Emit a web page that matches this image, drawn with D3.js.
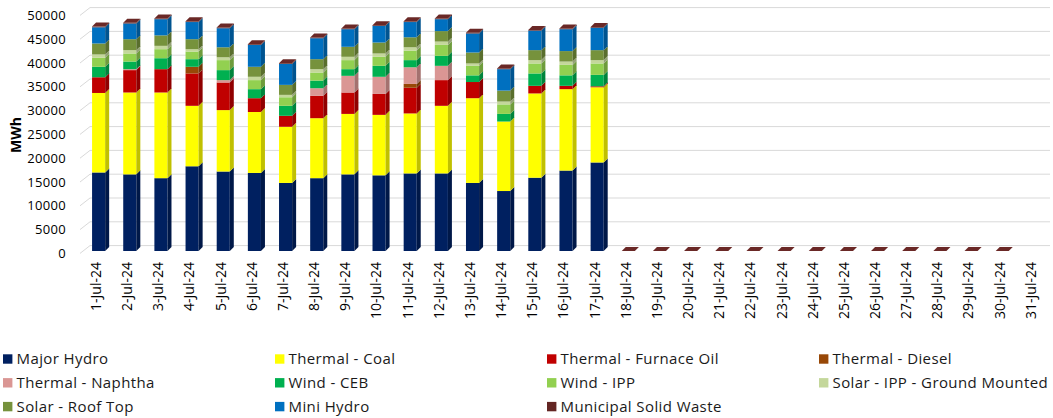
<!DOCTYPE html>
<html>
<head>
<meta charset="utf-8">
<script src="https://cdn.jsdelivr.net/npm/d3@7"></script>
<style>
  body { margin: 0; background: #fff; }
  svg { display: block; font-family: "Open Sans", "Noto Sans", sans-serif; }
</style>
</head>
<body>
<svg width="1053" height="418"></svg>
<script>
const dates = [
    "1-Jul-24", "2-Jul-24", "3-Jul-24", "4-Jul-24", "5-Jul-24", "6-Jul-24", "7-Jul-24", "8-Jul-24",
    "9-Jul-24", "10-Jul-24", "11-Jul-24", "12-Jul-24", "13-Jul-24", "14-Jul-24", "15-Jul-24", "16-Jul-24",
    "17-Jul-24", "18-Jul-24", "19-Jul-24", "20-Jul-24", "21-Jul-24", "22-Jul-24", "23-Jul-24", "24-Jul-24",
    "25-Jul-24", "26-Jul-24", "27-Jul-24", "28-Jul-24", "29-Jul-24", "30-Jul-24", "31-Jul-24"
]

// MWh per day, 18-30 Jul reported as zero, 31 Jul no data
const majorHydro = [16500, 16100, 15300, 17800, 16700, 16400, 14300, 15300, 16100, 15900, 16300, 16300, 14300, 12600, 15400, 16900, 18600, 0, 0, 0, 0, 0, 0, 0, 0, 0, 0, 0, 0, 0, null]
const thermalCoal = [16700, 17200, 18000, 12700, 12900, 12800, 11800, 12600, 12700, 12700, 12600, 14200, 17800, 14600, 17700, 17100, 15800, 0, 0, 0, 0, 0, 0, 0, 0, 0, 0, 0, 0, 0, null]
const furnaceOil = [3300, 4700, 4900, 6800, 5800, 2900, 2300, 4700, 4500, 4400, 5400, 5400, 3400, 0, 1600, 700, 200, 0, 0, 0, 0, 0, 0, 0, 0, 0, 0, 0, 0, 0, null]
const diesel = [0, 0, 0, 1400, 0, 0, 0, 0, 0, 0, 800, 0, 0, 0, 0, 0, 0, 0, 0, 0, 0, 0, 0, 0, 0, 0, 0, 0, 0, 0, null]
const naphtha = [0, 200, 0, 0, 500, 0, 0, 1600, 3500, 3600, 3500, 3000, 0, 0, 0, 0, 0, 0, 0, 0, 0, 0, 0, 0, 0, 0, 0, 0, 0, 0, null]
const windCEB = [2200, 1600, 2300, 1600, 2100, 1900, 2100, 1600, 1400, 2300, 1500, 2100, 1400, 1600, 2600, 2200, 2400, 0, 0, 0, 0, 0, 0, 0, 0, 0, 0, 0, 0, 0, null]
const windIPP = [1900, 1700, 1900, 1600, 2100, 1900, 1800, 1700, 1900, 1900, 2000, 2300, 2000, 2000, 2100, 2200, 2400, 0, 0, 0, 0, 0, 0, 0, 0, 0, 0, 0, 0, 0, null]
const solarGround = [700, 700, 700, 500, 600, 700, 500, 700, 700, 700, 700, 700, 500, 600, 700, 700, 700, 0, 0, 0, 0, 0, 0, 0, 0, 0, 0, 0, 0, 0, null]
const solarRoof = [2300, 2300, 2200, 2100, 2100, 2100, 2100, 2100, 2100, 2300, 2100, 2200, 2300, 2300, 2100, 2200, 2100, 0, 0, 0, 0, 0, 0, 0, 0, 0, 0, 0, 0, 0, null]
const miniHydro = [3400, 3300, 3400, 3600, 4000, 4600, 4400, 4400, 3700, 3500, 3200, 2500, 4000, 4500, 4100, 4600, 4700, 0, 0, 0, 0, 0, 0, 0, 0, 0, 0, 0, 0, 0, null]
const msw = [150, 150, 150, 150, 150, 150, 150, 150, 150, 150, 150, 150, 150, 150, 150, 150, 150, 0, 0, 0, 0, 0, 0, 0, 0, 0, 0, 0, 0, 0, null]

const seriesNames = ["Major Hydro", "Thermal - Coal", "Thermal - Furnace Oil", "Thermal - Diesel",
    "Thermal - Naphtha", "Wind - CEB", "Wind - IPP", "Solar - IPP - Ground Mounted",
    "Solar - Roof Top", "Mini Hydro", "Municipal Solid Waste"]
const seriesValues = [majorHydro, thermalCoal, furnaceOil, diesel, naphtha, windCEB, windIPP,
    solarGround, solarRoof, miniHydro, msw]
const colors = ["#002060", "#ffff00", "#c00000", "#984807", "#da9694", "#00b050", "#92d050",
    "#c4d79b", "#76923c", "#0070c0", "#632523"]
const yTicks = [0, 5000, 10000, 15000, 20000, 25000, 30000, 35000, 40000, 45000, 50000]

const svg = d3.select("svg")

// bar depth (oblique offset) and wall offsets
const bdx = 4, bdy = 4
const wallFront = 2.4, wallBack = 5.4

const x = d3.scaleBand()
    .domain(dates)
    .range([74, 1058])
    .paddingInner(0.58)
    .paddingOuter(0.58)

const y = d3.scaleLinear()
    .domain([0, 50000])
    .range([251, 13])

// gridlines: short side-wall diagonal + back wall line
const grid = svg.append("g")
    .attr("stroke", "#d9d9d9")
    .attr("fill", "none")
yTicks.forEach(v => {
    grid.append("path")
        .attr("d", `M80,${y(v) + wallFront} L90,${y(v) - wallBack} L1050,${y(v) - wallBack}`)
})

// y axis labels
const yAxis = svg.append("g")
    .attr("transform", `translate(66,${wallFront})`)
    .call(d3.axisLeft(y).tickValues(yTicks).tickSize(0).tickPadding(0).tickFormat(d3.format("d")))
yAxis.select(".domain").remove()
yAxis.selectAll("text")
    .attr("font-family", "'Open Sans', sans-serif")
    .attr("font-size", 13)
    .attr("letter-spacing", 0.3)
    .attr("fill", "#000")

svg.append("text")
    .attr("transform", "translate(21,135) rotate(-90)")
    .attr("text-anchor", "middle")
    .attr("font-size", 14)
    .attr("font-weight", "bold")
    .attr("fill", "#000")
    .text("MWh")

// x axis labels
const xAxis = svg.append("g")
    .attr("transform", "translate(-2.5,262)")
    .call(d3.axisBottom(x).tickSize(0).tickPadding(0))
xAxis.select(".domain").remove()
xAxis.selectAll("text")
    .attr("font-family", "'Open Sans', sans-serif")
    .attr("font-size", 14)
    .attr("fill", "#000")
    .attr("text-anchor", "end")
    .attr("dy", "0.35em")
    .attr("transform", "rotate(-90)")

// stacked 3D bars
const bars = svg.append("g")
dates.forEach((d, i) => {
    if (majorHydro[i] === null) return
    const x0 = x(d), w = x.bandwidth()
    let acc = 0
    let topColor = colors[colors.length - 1]
    seriesValues.forEach((vals, s) => {
        const v = vals[i]
        if (!v) return
        const yb = y(acc), yt = y(acc + v)
        acc += v
        topColor = colors[s]
        bars.append("rect")
            .attr("x", x0).attr("y", yt)
            .attr("width", w).attr("height", yb - yt)
            .attr("fill", colors[s])
        bars.append("path")
            .attr("d", `M${x0 + w},${yb} L${x0 + w + bdx},${yb - bdy} L${x0 + w + bdx},${yt - bdy} L${x0 + w},${yt} Z`)
            .attr("fill", d3.color(colors[s]).darker(0.8))
    })
    const yt = y(acc)
    bars.append("path")
        .attr("d", `M${x0},${yt} L${x0 + bdx},${yt - bdy} L${x0 + w + bdx},${yt - bdy} L${x0 + w},${yt} Z`)
        .attr("fill", d3.color(topColor).brighter(0.2))
})

// legend
const legend = svg.append("g")
seriesNames.forEach((name, i) => {
    const col = i % 4, row = Math.floor(i / 4)
    const g = legend.append("g")
        .attr("transform", `translate(${3 + col * 272},${359 + row * 23.8})`)
    g.append("rect")
        .attr("x", 0).attr("y", -4.7)
        .attr("width", 9.4).attr("height", 9.4)
        .attr("fill", colors[i])
    g.append("text")
        .attr("x", 13.5)
        .attr("dy", "0.35em")
        .attr("font-size", 15)
        .attr("letter-spacing", 0.4)
        .attr("fill", "#1a1a1a")
        .text(name)
})
</script>
</body>
</html>
